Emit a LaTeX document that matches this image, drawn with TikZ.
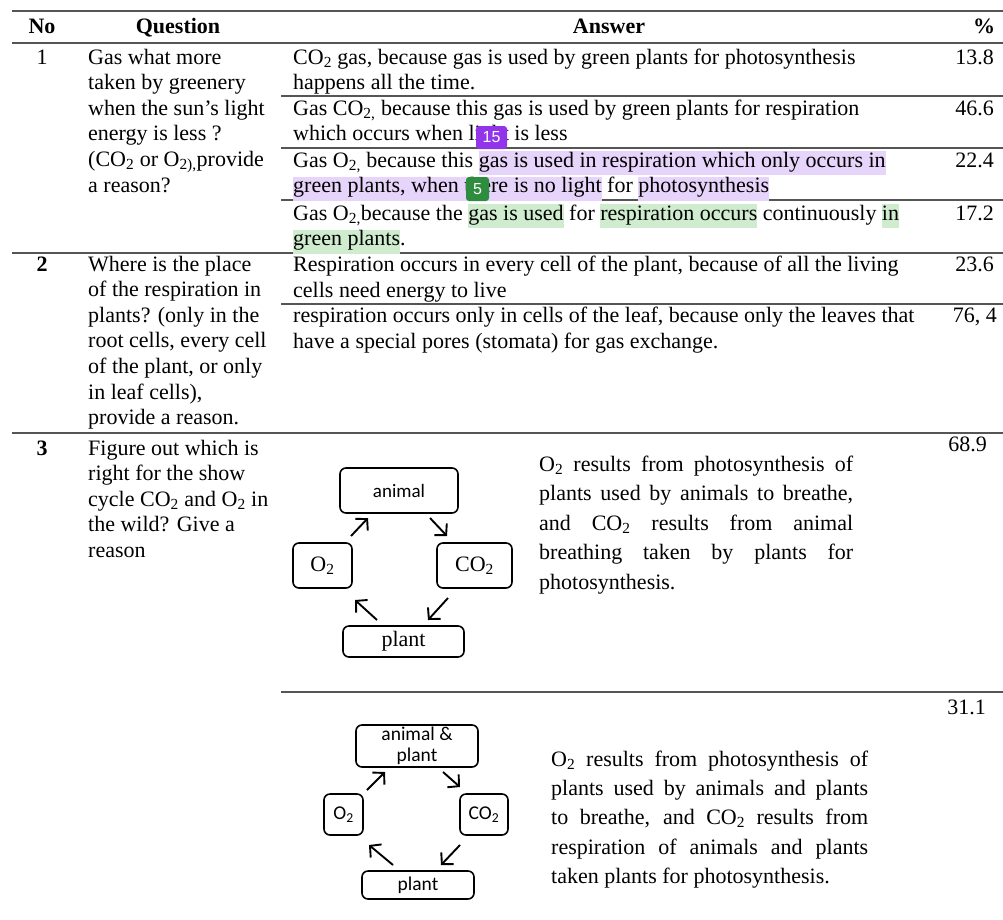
\documentclass[tikz,border=0pt]{standalone}
\usepackage{fontspec}
\setmainfont{Liberation Serif}
\newfontfamily\calib{Carlito}
\newfontfamily\badgefont{Liberation Sans}
\usetikzlibrary{arrows.meta}
\definecolor{hlpurple}{RGB}{231,212,250}
\definecolor{hlgreen}{RGB}{207,236,207}
\definecolor{bdpurple}{RGB}{146,52,234}
\definecolor{bdgreen}{RGB}{46,140,62}
\definecolor{rulegray}{RGB}{85,85,85}
\tikzstyle{txt} = [inner sep=0pt, anchor=base west, font=\fontsize{22}{25.6}\selectfont]
\tikzstyle{pct} = [inner sep=0pt, anchor=base east, font=\fontsize{22}{25.6}\selectfont]
\tikzstyle{hd} = [inner sep=0pt, anchor=base, font=\fontsize{22}{25.6}\selectfont\bfseries]
\tikzstyle{rule} = [rulegray, line width=2pt]
\tikzstyle{subrule} = [rulegray, line width=1.6pt]
\tikzstyle{box} = [draw, rounded corners=6pt, line width=1.6pt, inner sep=0pt]
\tikzstyle{cyc} = [line width=1.9pt, -{Straight Barb[length=8pt,width=17pt]}]
\tikzstyle{badge} = [rounded corners=3pt, inner sep=0pt, text=white, font=\badgefont\fontsize{16}{16}\selectfont]
\newcommand{\hlp}[1]{{\setlength{\fboxsep}{0pt}\colorbox{hlpurple}{\rule[-8pt]{0pt}{24pt}#1}}}
\newcommand{\hlg}[1]{{\setlength{\fboxsep}{0pt}\colorbox{hlgreen}{\rule[-8pt]{0pt}{24pt}#1}}}
\newcommand{\jline}[2]{\makebox[#1][s]{#2}}

\begin{document}
\begin{tikzpicture}[x=1pt,y=-1pt]
  \useasboundingbox (0,0) rectangle (1003,919);
  % rules
  \draw[rule] (12,11) -- (1003,11);
  \draw[rule] (12,43) -- (1003,43);
  \draw[rule] (12,253) -- (1003,253);
  \draw[rule] (12,433) -- (1003,433);
  \draw[subrule] (281,96) -- (1003,96);
  \draw[subrule] (281,148) -- (1003,148);
  \draw[subrule] (281,200) -- (1003,200);
  \draw[subrule] (281,304) -- (1003,304);
  \draw[subrule] (281,692) -- (1003,692);
  % header
  \node[hd] (hno) at (42,33) {No};
  \node[hd] (hq) at (178,33) {Question};
  \node[hd] (ha) at (609,33) {Answer};
  \node[hd] (hp) at (984,33) {\%};
  % row 1
  \node[hd,font=\fontsize{22}{25.6}\selectfont] (n1) at (42,64) {1};
  \foreach \t [count=\i from 0] in {Gas what more, taken by greenery, when the sun's light,
      energy is less ?, {(CO\textsubscript{2} or O\textsubscript{2),}provide}, a reason?}
    \node[txt] (qa\i) at (88,64+25.6*\i) {\t};
  \node[txt] (a1a) at (293,64) {CO\textsubscript{2} gas, because gas is used by green plants for photosynthesis};
  \node[txt] (a1b) at (293,89.5) {happens all the time.};
  \node[txt] (a2a) at (293,115) {Gas CO\textsubscript{2,} because this gas is used by green plants for respiration};
  \node[txt] (a2b) at (293,140.5) {which occurs when light is less};
  \node[txt] (a3a) at (293,167) {Gas O\textsubscript{2,} because this \hlp{gas is used in respiration which only occurs in}};
  \node[txt] (a3b) at (293,192.5) {\hlp{green plants, when there is no light} for \hlp{photosynthesis}};
  \node[txt] (a4a) at (293,220) {Gas O\textsubscript{2,}because the \hlg{gas is used} for \hlg{respiration occurs} continuously \hlg{in}};
  \node[txt] (a4b) at (293,245.5) {\hlg{green plants}.};
  \node[pct] (p1) at (994,64) {13.8};
  \node[pct] (p2) at (994,115) {46.6};
  \node[pct] (p3) at (994,167) {22.4};
  \node[pct] (p4) at (994,220) {17.2};
  \node[badge,fill=bdpurple,minimum width=31pt,minimum height=23pt] (b15) at (491.5,137.5) {15};
  \node[badge,fill=bdgreen,minimum width=23pt,minimum height=24pt] (b5) at (477.5,189) {5};
  % row 2
  \node[hd] (n2) at (42,271) {2};
  \foreach \t [count=\i from 0] in {Where is the place, of the respiration in, plants? (only in the,
      {root cells, every cell}, {of the plant, or only}, {in leaf cells),}, provide a reason.}
    \node[txt] (qb\i) at (88,271+25.6*\i) {\t};
  \node[txt] (b1a) at (293,271) {Respiration occurs in every cell of the plant, because of all the living};
  \node[txt] (b1b) at (293,297) {cells need energy to live};
  \node[txt] (b2a) at (293,322) {respiration occurs only in cells of the leaf, because only the leaves that};
  \node[txt] (b2b) at (293,348) {have a special pores (stomata) for gas exchange.};
  \node[pct] (p5) at (994,271) {23.6};
  \node[pct] (p6) at (997,322) {76, 4};
  % row 3
  \node[hd] (n3) at (42,455) {3};
  \foreach \t [count=\i from 0] in {Figure out which is, right for the show,
      cycle CO\textsubscript{2} and O\textsubscript{2} in, the wild? Give a, reason}
    \node[txt] (qc\i) at (88,455+25.6*\i) {\t};
  \node[pct] (p7) at (987,451) {68.9};
  \node[pct] (p8) at (986,714) {31.1};
  % cycle 1
  \node[box,minimum width=118pt,minimum height=45pt,font=\calib\fontsize{19}{21}\selectfont] (animal) at (399,490.5) {animal};
  \node[box,minimum width=59pt,minimum height=45pt,font=\fontsize{22}{24}\selectfont] (oxa) at (322.5,565.5) {O\textsubscript{2}};
  \node[box,minimum width=75pt,minimum height=45pt,font=\fontsize{22}{24}\selectfont] (coa) at (474.5,565.5) {CO\textsubscript{2}};
  \node[box,minimum width=121pt,minimum height=31pt,font=\fontsize{22}{24}\selectfont] (planta) at (403.5,641.5) {plant};
  \coordinate (c1s) at (351,536); \coordinate (c1e) at (368,518);
  \coordinate (c2s) at (430,518); \coordinate (c2e) at (447,536);
  \coordinate (c3s) at (448,598); \coordinate (c3e) at (428,620);
  \coordinate (c4s) at (377,620); \coordinate (c4e) at (355,600);
  \draw[cyc] (c1s) -- (c1e);
  \draw[cyc] (c2s) -- (c2e);
  \draw[cyc] (c3s) -- (c3e);
  \draw[cyc] (c4s) -- (c4e);
  \node[txt] (ta1) at (539,471) {\jline{314pt}{O\textsubscript{2} results from photosynthesis of}};
  \node[txt] (ta2) at (539,500.5) {\jline{314pt}{plants used by animals to breathe,}};
  \node[txt] (ta3) at (539,530) {\jline{314pt}{and CO\textsubscript{2} results from animal}};
  \node[txt] (ta4) at (539,559.5) {\jline{314pt}{breathing taken by plants for}};
  \node[txt] (ta5) at (539,589) {photosynthesis.};
  % cycle 2
  \node[box,minimum width=122pt,minimum height=42pt,align=center,font=\calib\fontsize{19.5}{21}\selectfont] (both) at (417,746) {animal \&\\plant};
  \node[box,minimum width=39pt,minimum height=41pt,font=\calib\fontsize{19.5}{21}\selectfont] (oxb) at (343.5,814.5) {O\textsubscript{2}};
  \node[box,minimum width=48pt,minimum height=41pt,font=\calib\fontsize{19.5}{21}\selectfont] (cob) at (484,814.5) {CO\textsubscript{2}};
  \node[box,minimum width=112pt,minimum height=28pt,font=\calib\fontsize{19.5}{21}\selectfont] (plantb) at (418,885) {plant};
  \coordinate (d1s) at (367,790); \coordinate (d1e) at (385,772);
  \coordinate (d2s) at (443,772); \coordinate (d2e) at (460,787);
  \coordinate (d3s) at (460,845); \coordinate (d3e) at (441,865);
  \coordinate (d4s) at (393,865); \coordinate (d4e) at (369,845);
  \draw[cyc] (d1s) -- (d1e);
  \draw[cyc] (d2s) -- (d2e);
  \draw[cyc] (d3s) -- (d3e);
  \draw[cyc] (d4s) -- (d4e);
  \node[txt] (tb1) at (551,766) {\jline{317pt}{O\textsubscript{2} results from photosynthesis of}};
  \node[txt] (tb2) at (551,795) {\jline{317pt}{plants used by animals and plants}};
  \node[txt] (tb3) at (551,824.5) {\jline{317pt}{to breathe, and CO\textsubscript{2} results from}};
  \node[txt] (tb4) at (551,854) {\jline{317pt}{respiration of animals and plants}};
  \node[txt] (tb5) at (551,883) {taken plants for photosynthesis.};
\end{tikzpicture}
\end{document}
